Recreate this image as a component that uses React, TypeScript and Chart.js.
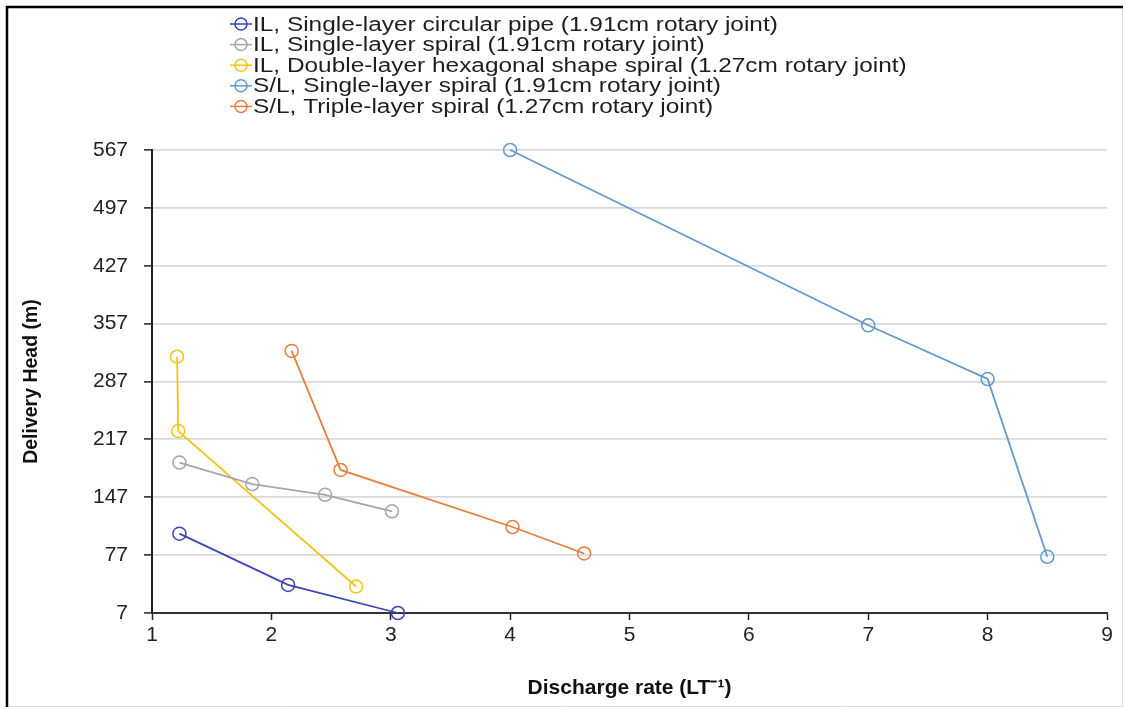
import React, { useEffect, useRef } from "react";
import { Chart, registerables } from "chart.js";

Chart.register(...registerables);

const seriesLabels = [
  "IL, Single-layer circular pipe (1.91cm rotary joint)",
  "IL, Single-layer spiral (1.91cm rotary joint)",
  "IL, Double-layer hexagonal shape spiral (1.27cm rotary joint)",
  "S/L, Single-layer spiral (1.91cm rotary joint)",
  "S/L, Triple-layer spiral (1.27cm rotary joint)",
];
const seriesColors = ["#3c46b4", "#a6a6a6", "#f0c419", "#639acd", "#e4803f"];

const circularX = [1.23, 2.14, 3.06];
const circularY = [103, 41, 7];
const spiralX = [1.23, 1.84, 2.45, 3.01];
const spiralY = [189, 163, 150, 130];
const hexX = [1.21, 1.22, 2.71];
const hexY = [317, 227, 39];
const slSingleX = [4.0, 7.0, 8.0, 8.5];
const slSingleY = [567, 355, 290, 75];
const slTripleX = [2.17, 2.58, 4.02, 4.62];
const slTripleY = [324, 180, 111, 79];

const yTicks = [7, 77, 147, 217, 287, 357, 427, 497, 567];
const xMin = 1;
const xMax = 9;
const xTitle = "Discharge rate (LT\u207B\u00B9)";
const yTitle = "Delivery Head (m)";

const FONT = "'Liberation Sans', Arial, sans-serif";

const toPoints = (xs: number[], ys: number[]) => xs.map((x, i) => ({ x, y: ys[i] }));

const legendPlugin = {
  id: "customLegend",
  afterDraw(chart: any) {
    const ctx = chart.ctx;
    ctx.save();
    chart.data.datasets.forEach((ds: any, i: number) => {
      const y = 24 + i * 20.6;
      ctx.strokeStyle = ds.borderColor;
      ctx.lineWidth = 1.5;
      ctx.beginPath();
      ctx.moveTo(230, y);
      ctx.lineTo(252, y);
      ctx.stroke();
      ctx.beginPath();
      ctx.arc(241, y, 6, 0, Math.PI * 2);
      ctx.stroke();
      ctx.save();
      ctx.fillStyle = "#1e1e1e";
      ctx.font = `20px ${FONT}`;
      ctx.textBaseline = "middle";
      ctx.textAlign = "left";
      ctx.translate(253, y + 1);
      ctx.scale(1.22, 1);
      ctx.fillText(ds.label, 0, 0);
      ctx.restore();
    });
    ctx.restore();
  },
};

const framePlugin = {
  id: "frame",
  afterDraw(chart: any) {
    const ctx = chart.ctx;
    const w = chart.width;
    const h = chart.height;
    ctx.save();
    ctx.strokeStyle = "#dcdcdc";
    ctx.lineWidth = 1;
    ctx.beginPath();
    ctx.moveTo(w - 2.5, 7);
    ctx.lineTo(w - 2.5, h - 2.5);
    ctx.lineTo(7, h - 2.5);
    ctx.stroke();
    ctx.strokeStyle = "#000";
    ctx.lineWidth = 2.5;
    ctx.beginPath();
    ctx.moveTo(7, h - 2);
    ctx.lineTo(7, 7);
    ctx.lineTo(w - 2, 7);
    ctx.stroke();
    ctx.restore();
  },
};

export default function App() {
  const ref = useRef<HTMLCanvasElement>(null);
  useEffect(() => {
    document.body.style.margin = "0";
    const xsList = [circularX, spiralX, hexX, slSingleX, slTripleX];
    const ysList = [circularY, spiralY, hexY, slSingleY, slTripleY];
    const datasets = seriesLabels.map((label, i) => ({
      label,
      data: toPoints(xsList[i], ysList[i]),
      borderColor: seriesColors[i],
      backgroundColor: "rgba(0,0,0,0)",
      borderWidth: 1.8,
      pointRadius: 6.5,
      pointBorderWidth: 1.5,
      pointBorderColor: seriesColors[i],
      pointBackgroundColor: "rgba(0,0,0,0)",
      showLine: true,
      tension: 0,
      clip: false as any,
    }));
    const chart = new Chart(ref.current!, {
      type: "scatter",
      data: { datasets },
      plugins: [legendPlugin, framePlugin],
      options: {
        animation: false,
        responsive: false,
        devicePixelRatio: 1,
        layout: { padding: { top: 150, left: 20, right: 18, bottom: 8 } },
        plugins: { legend: { display: false }, tooltip: { enabled: false } },
        scales: {
          x: {
            type: "linear",
            min: xMin,
            max: xMax,
            ticks: { stepSize: 1, color: "#222", font: { size: 21, family: FONT }, padding: 3 },
            grid: { drawOnChartArea: false, drawTicks: true, tickLength: 7, tickColor: "#222", tickWidth: 1.5 },
            border: { color: "#333", width: 2 },
            title: { display: true, text: xTitle, color: "#111", font: { size: 21, weight: "bold", family: FONT }, padding: 0 },
            afterFit: (scale: any) => {
              scale.height = 88;
            },
          },
          y: {
            type: "linear",
            min: yTicks[0],
            max: yTicks[yTicks.length - 1],
            afterBuildTicks: (scale: any) => {
              scale.ticks = yTicks.map((v) => ({ value: v }));
            },
            ticks: { color: "#222", font: { size: 21, family: FONT }, padding: 16 },
            grid: { color: "#dadada", lineWidth: 1.8, tickLength: 8, tickColor: "#222", tickWidth: 1.5 },
            border: { color: "#222", width: 2 },
            title: { display: true, text: yTitle, color: "#111", font: { size: 19.5, weight: "bold", family: FONT }, padding: 0 },
            afterFit: (scale: any) => {
              scale.width = 132;
            },
          },
        },
      } as any,
    });
    return () => chart.destroy();
  }, []);
  return (
    <div style={{ width: 1125, height: 709, background: "#fff" }}>
      <canvas ref={ref} width={1125} height={709} style={{ display: "block", width: 1125, height: 709 }} />
    </div>
  );
}
